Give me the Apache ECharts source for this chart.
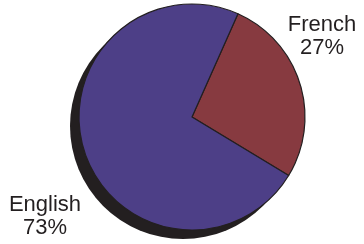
<!DOCTYPE html>
<html>
<head>
<meta charset="utf-8">
<script src="https://cdn.jsdelivr.net/npm/echarts@6/dist/echarts.min.js"></script>
<style>
  html, body { margin: 0; padding: 0; background: #fff; }
  #main { width: 364px; height: 244px; }
</style>
</head>
<body>
<div id="main"></div>
<script>
// 数据
let languages = ["French", "English"];
let shares = [27, 73];
let sliceColors = ["#873a40", "#4d3f87"];
// 标签位置（文字中心 x，顶部 y）
let labelPos = [[322, 13], [45, 193]];

let total = shares.reduce(function (a, b) { return a + b; }, 0);

let myChart = echarts.init(document.getElementById('main'));
let option = {
    animation: false,
    // 标签用 graphic 文字
    graphic: languages.map(function (n, i) {
        return {
            type: "text",
            x: labelPos[i][0],
            y: labelPos[i][1],
            z: 10,
            style: {
                text: n + "\n" + shares[i] + "%",
                fontFamily: "Liberation Sans, Arial, sans-serif",
                fontSize: 22,
                lineHeight: 23,
                fill: "#231f20",
                align: "center",
                verticalAlign: "top"
            }
        };
    }),
    series: [
        {
            // 阴影
            type: "pie",
            silent: true,
            center: [183, 126],
            radius: 113,
            z: 1,
            label: { show: false },
            labelLine: { show: false },
            itemStyle: { color: "#231f20" },
            data: [{ name: "total", value: total }]
        },
        {
            type: "pie",
            center: [192, 117],
            radius: 113,
            startAngle: 66,
            clockwise: true,
            z: 2,
            itemStyle: {
                borderColor: "#231f20",
                borderWidth: 1.2
            },
            label: { show: false },
            labelLine: { show: false },
            data: languages.map(function (n, i) {
                return { name: n, value: shares[i], itemStyle: { color: sliceColors[i] } };
            })
        }
    ]
};
myChart.setOption(option);

window.addEventListener("resize", function () {
    myChart.resize();
});
</script>
</body>
</html>
